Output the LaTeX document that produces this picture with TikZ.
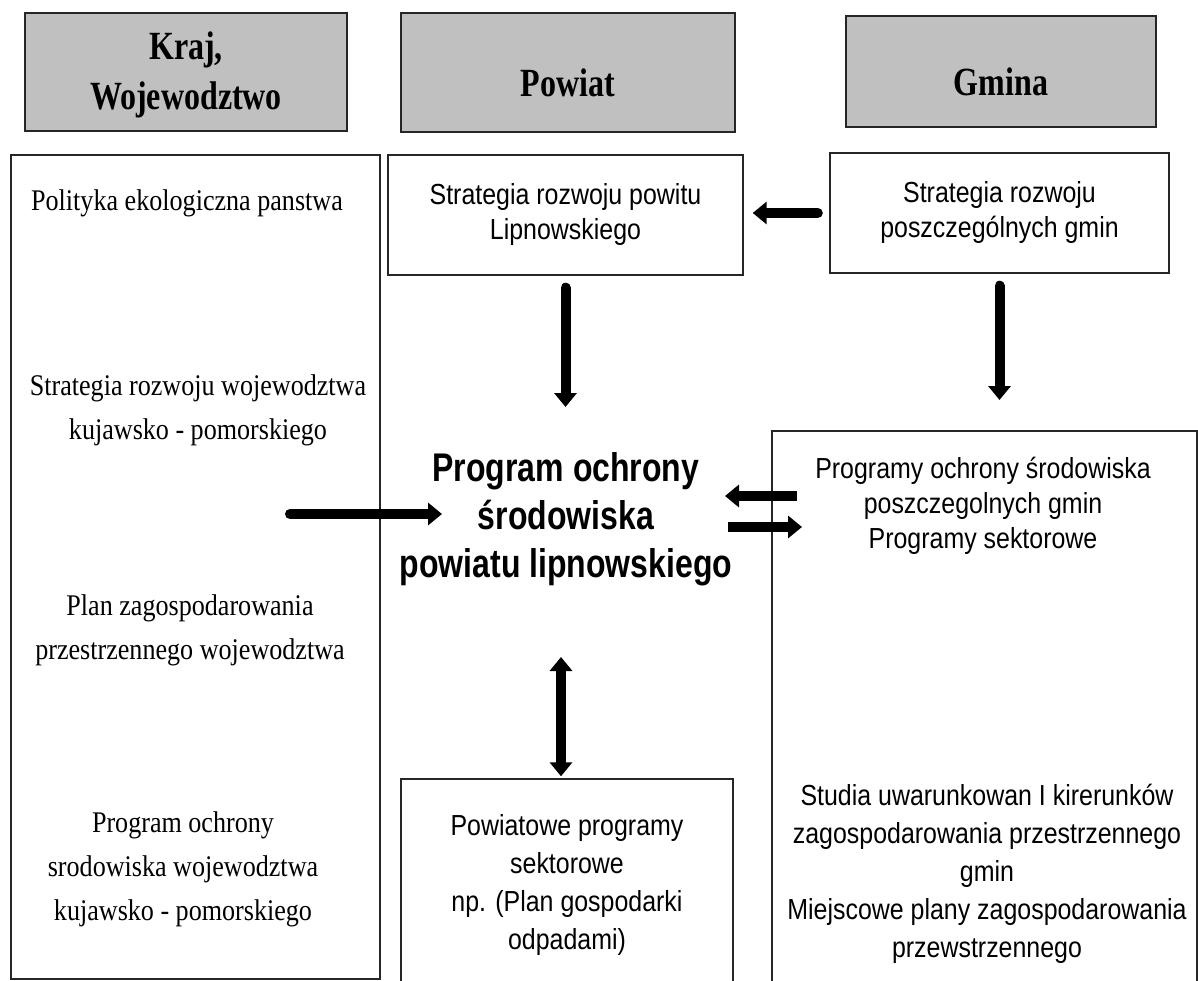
\documentclass[tikz,border=0pt]{standalone}
\usepackage{fontspec}
\setmainfont{Liberation Serif}
\newfontfamily\naglowek[FakeStretch=0.8]{Liberation Serif}
\newfontfamily\szeryf[FakeStretch=0.87]{Liberation Serif}
\newfontfamily\bezszeryf[FakeStretch=0.86]{Liberation Sans}
\newfontfamily\tytul[FakeStretch=0.8]{Liberation Sans}
\definecolor{NaglowekSzary}{HTML}{C0C0C0}
\usetikzlibrary{arrows.meta}

\begin{document}
\begin{tikzpicture}[x=1pt,y=-1pt,
  every node/.style={inner sep=0pt},
  naglowek/.style={draw=black!85,line width=1.8pt,fill=NaglowekSzary,align=center,
    font=\naglowek\bfseries\fontsize{40}{50}\selectfont},
  ramka/.style={draw=black!85,line width=1.4pt},
  tekstL/.style={font=\szeryf\fontsize{30}{44}\selectfont,align=center},
  tekstS/.style={font=\bezszeryf\fontsize{29}{35}\selectfont,align=center},
  tekstS2/.style={font=\bezszeryf\fontsize{29}{38}\selectfont,align=center},
  strz/.style={-{Triangle[length=14pt,width=22pt]},line width=10pt,line cap=round},
  dwustrz/.style={{Triangle[length=14pt,width=22pt]}-{Triangle[length=14pt,width=22pt]},line width=10pt}]
\useasboundingbox (0,0) rectangle (1198,981);
\clip (0,0) rectangle (1198,981);
% naglowki kolumn
\node[naglowek,minimum width=322pt,minimum height=118pt] (kraj) at (186,72) {\rule{0pt}{34pt}Kraj,\\Wojewodztwo};
\node[naglowek,minimum width=334pt,minimum height=119pt,text height=56pt,text depth=8pt] (powiat) at (568,72.5) {Powiat};
\node[naglowek,minimum width=310pt,minimum height=111pt,text height=56pt,text depth=8pt] (gmina) at (1001,71.5) {Gmina};
% kolumna lewa
\node[ramka,minimum width=369pt,minimum height=824pt] (kol) at (195.5,567) {};
\node[tekstL] (polityka) at (187,203) {Polityka ekologiczna panstwa};
\node[tekstL] (strWoj) at (198,410) {Strategia rozwoju wojewodztwa\\kujawsko - pomorskiego};
\node[tekstL] (planWoj) at (190,630) {Plan zagospodarowania\\przestrzennego wojewodztwa};
\node[tekstL] (progWoj) at (183,869) {Program ochrony\\srodowiska wojewodztwa\\kujawsko - pomorskiego};
% kolumna srodkowa
\node[ramka,tekstS,minimum width=355pt,minimum height=120pt] (stratP) at (565.5,215) {Strategia rozwoju powitu\\Lipnowskiego};
\node[font=\tytul\bfseries\fontsize{40}{48}\selectfont,align=center] (prog) at (566,519)
  {Program ochrony\\środowiska\\powiatu lipnowskiego};
\node[ramka,tekstS2,minimum width=332pt,minimum height=212pt] (pow) at (567,885)
  {Powiatowe programy\\sektorowe\\np. (Plan gospodarki\\odpadami)};
% kolumna prawa
\node[ramka,tekstS,minimum width=339pt,minimum height=120pt] (stratG) at (999.5,213) {Strategia rozwoju\\poszczególnych gmin};
\node[ramka,minimum width=425pt,minimum height=560pt] (rp) at (984.5,711) {};
\node[tekstS] (progGmin) at (983,506) {Programy ochrony środowiska\\poszczegolnych gmin\\Programy sektorowe};
\node[tekstS2] (studia) at (987,874) {Studia uwarunkowan I kirerunków\\zagospodarowania przestrzennego\\gmin\\Miejscowe plany zagospodarowania\\przewstrzennego};
% strzalki
\coordinate (wejL) at (290,514);
\coordinate (wejP) at (442,514);
\coordinate (celP) at (565.5,407);
\coordinate (celG) at (999.5,400);
\coordinate (gL) at (725,496);
\coordinate (gR) at (797,496);
\coordinate (dL) at (728,527);
\coordinate (dR) at (802,527);
\coordinate (dwaG) at (561,657);
\draw[strz,shorten <=11.5pt,shorten >=9pt] (stratG.west) -- (stratG.west -| stratP.east);
\draw[strz,shorten <=12pt] (stratP.south) -- (celP);
\draw[strz,shorten <=12pt] (stratG.south) -- (celG);
\draw[strz] (wejL) -- (wejP);
\draw[strz,line cap=butt] (gR) -- (gL);
\draw[strz,line cap=butt] (dL) -- (dR);
\draw[dwustrz,shorten >=2pt] (dwaG) -- (dwaG |- pow.north);
\end{tikzpicture}
\end{document}
